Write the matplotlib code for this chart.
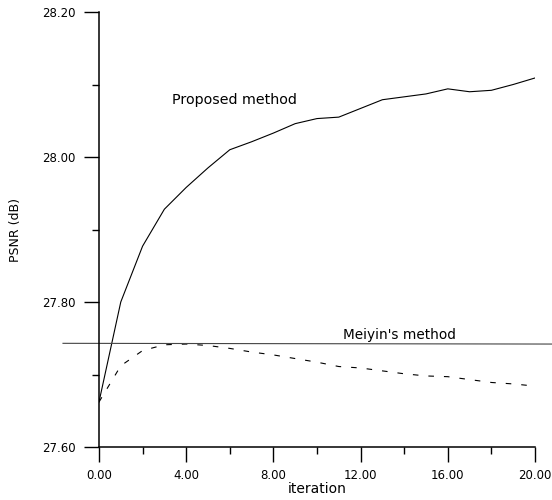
import matplotlib
matplotlib.use('Agg')
import matplotlib.pyplot as plt
from matplotlib.ticker import FixedLocator, FormatStrFormatter

# iterations and PSNR values
iterations = list(range(0, 21))
proposed = [27.662, 27.800, 27.877, 27.928, 27.958, 27.985, 28.010, 28.021, 28.033,
            28.046, 28.053, 28.055, 28.067, 28.079, 28.083, 28.087, 28.094, 28.090,
            28.092, 28.100, 28.109]
meiyin_iter = [27.662, 27.712, 27.733, 27.741, 27.742, 27.740, 27.736, 27.731, 27.727,
               27.722, 27.717, 27.711, 27.709, 27.705, 27.701, 27.698, 27.697, 27.693,
               27.689, 27.687, 27.684]
meiyin_level_x = [-1.65, 20.8]
meiyin_level = [27.743, 27.742]

x_major = [0, 4, 8, 12, 16, 20]
x_minor = [2, 6, 10, 14, 18]
y_major = [27.60, 27.80, 28.00, 28.20]
y_minor = [27.70, 27.90, 28.10]

fig = plt.figure(figsize=(5.52, 5.00), dpi=100)
ax = fig.add_axes([0.1793, 0.106, 0.7899, 0.870])

ax.plot(iterations, proposed, color='black', linewidth=0.8)
ax.plot(iterations, meiyin_iter, color='black', linewidth=0.8, dashes=(5, 9))
ax.plot(meiyin_level_x, meiyin_level, color='#444444', linewidth=0.8, clip_on=False)

ax.text(3.35, 28.079, 'Proposed method', fontsize=10.3, va='center', ha='left')
ax.text(11.2, 27.754, "Meiyin's method", fontsize=9.8, va='center', ha='left')

ax.set_xlim(0, 20)
ax.set_ylim(27.60, 28.20)

ax.spines['top'].set_visible(False)
ax.spines['right'].set_visible(False)
ax.spines['left'].set_linewidth(1.1)
ax.spines['bottom'].set_linewidth(1.1)

ax.xaxis.set_major_locator(FixedLocator(x_major))
ax.xaxis.set_minor_locator(FixedLocator(x_minor))
ax.yaxis.set_major_locator(FixedLocator(y_major))
ax.yaxis.set_minor_locator(FixedLocator(y_minor))
ax.xaxis.set_major_formatter(FormatStrFormatter('%.2f'))
ax.yaxis.set_major_formatter(FormatStrFormatter('%.2f'))

ax.tick_params(axis='both', which='major', direction='out', length=11, width=1.0,
               labelsize=8.5, color='black')
ax.tick_params(axis='both', which='minor', direction='out', length=5, width=1.0, color='black')
ax.tick_params(axis='y', which='major', pad=6)
ax.tick_params(axis='x', which='major', pad=5)

ax.set_xlabel('iteration', fontsize=10, labelpad=0)
ax.set_ylabel('PSNR (dB)', fontsize=9, labelpad=14)

plt.savefig('out.png', dpi=100, facecolor='white')
